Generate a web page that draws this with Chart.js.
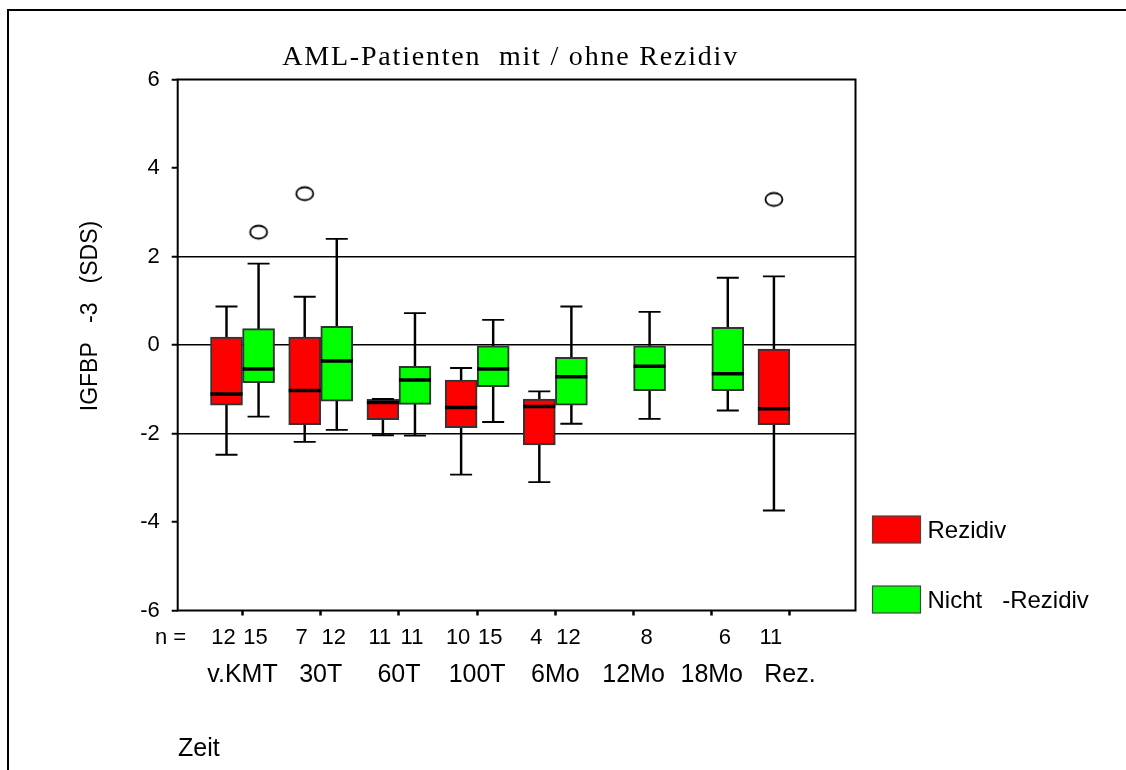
<!DOCTYPE html>
<html>
<head>
<meta charset="utf-8">
<script src="https://cdn.jsdelivr.net/npm/chart.js@4.4.0/dist/chart.umd.min.js"></script>
<style>
html, body { margin: 0; padding: 0; background: #fff; overflow: hidden; }
#wrap { position: relative; width: 1126px; height: 770px; }
#frame { position: absolute; left: 7px; top: 9px; width: 1200px; height: 800px;
         border-top: 2px solid #000; border-left: 2px solid #000; }
#c { position: absolute; left: 0; top: 0; }
</style>
</head>
<body>
<div id="wrap">
  <div id="frame"></div>
  <canvas id="c" width="1126" height="770"></canvas>
</div>
<script>
// ── Data ──
const categories = ['v.KMT', '30T', '60T', '100T', '6Mo', '12Mo', '18Mo', 'Rez.'];
const yTicks = [-6, -4, -2, 0, 2, 4, 6];
const refLines = [2, 0, -2];

// Rezidiv
const rezN   = [12, 7, 11, 10, 4, null, null, 11];
const rezMin = [-2.48, -2.19, -2.04, -2.93, -3.10, null, null, -3.74];
const rezQ1  = [-1.36, -1.80, -1.69, -1.87, -2.26, null, null, -1.80];
const rezMed = [-1.11, -1.03, -1.30, -1.41, -1.39, null, null, -1.44];
const rezQ3  = [0.18, 0.18, -1.23, -0.79, -1.22, null, null, -0.09];
const rezMax = [0.87, 1.09, -1.22, -0.52, -1.05, null, null, 1.55];
const rezOut = [null, 3.42, null, null, null, null, null, 3.29];

// Nicht-Rezidiv
const nrN   = [15, 12, 11, 15, 12, 8, 6, null];
const nrMin = [-1.62, -1.92, -2.05, -1.74, -1.78, -1.67, -1.48, null];
const nrQ1  = [-0.85, -1.27, -1.34, -0.94, -1.36, -1.03, -1.03, null];
const nrMed = [-0.54, -0.36, -0.79, -0.54, -0.72, -0.48, -0.65, null];
const nrQ3  = [0.37, 0.42, -0.48, -0.02, -0.28, -0.02, 0.40, null];
const nrMax = [1.84, 2.40, 0.72, 0.57, 0.87, 0.75, 1.52, null];
const nrOut = [2.55, null, null, null, null, null, null, null];

// ── Look ──
const SHIFT = 0.205;          // half a box, in category units
const BOX_W = 32;
const FONT = '"Liberation Sans", Arial, sans-serif';

const series = [
    { label: 'Rezidiv', color: '#ff0000', dx: -SHIFT,
      n: rezN, min: rezMin, q1: rezQ1, med: rezMed, q3: rezQ3, max: rezMax, out: rezOut },
    { label: 'Nicht   -Rezidiv', color: '#00ff00', dx: SHIFT,
      n: nrN, min: nrMin, q1: nrQ1, med: nrMed, q3: nrQ3, max: nrMax, out: nrOut }
];

const pts = (arr, dx) => arr.map((v, i) => v == null ? null : { x: i + dx, y: v }).filter(Boolean);
const spans = (lo, hi, dx) => lo.map((v, i) => v == null ? null : { x: i + dx, y: [v, hi[i]] }).filter(Boolean);

// open ellipse used for outliers
const ring = document.createElement('canvas');
ring.width = 22; ring.height = 18;
(function() {
    const r = ring.getContext('2d');
    r.fillStyle = '#fff';
    r.strokeStyle = '#000';
    r.lineWidth = 1.8;
    r.beginPath();
    r.ellipse(11, 9, 8.5, 6.5, 0, 0, Math.PI * 2);
    r.fill();
    r.stroke();
})();

const datasets = [];
series.forEach(s => {
    datasets.push({
        type: 'bar', label: s.label + ' whisker', data: spans(s.min, s.max, s.dx),
        backgroundColor: '#000', borderWidth: 0, barThickness: 1.8, grouped: false, order: 4
    });
    datasets.push({
        type: 'bar', label: s.label, data: spans(s.q1, s.q3, s.dx),
        backgroundColor: s.color, borderColor: '#333', borderWidth: 2,
        borderSkipped: false, barThickness: BOX_W, grouped: false, order: 3
    });
    datasets.push({
        type: 'line', label: s.label + ' caps', data: pts(s.min, s.dx).concat(pts(s.max, s.dx)),
        showLine: false, pointStyle: 'line', pointRadius: 11, pointHoverRadius: 11,
        pointBorderWidth: 1.8, pointBorderColor: '#000', order: 2
    });
    datasets.push({
        type: 'line', label: s.label + ' median', data: pts(s.med, s.dx),
        showLine: false, pointStyle: 'line', pointRadius: BOX_W / 2, pointHoverRadius: BOX_W / 2,
        pointBorderWidth: 3.5, pointBorderColor: '#000', order: 1
    });
    datasets.push({
        type: 'line', label: s.label + ' outlier', data: pts(s.out, s.dx),
        showLine: false, pointStyle: ring, order: 0
    });
});

// ── Extra text: title, y title, n row, legend, frame ──
const texts = {
    id: 'texts',
    afterDraw(chart) {
        const { ctx, chartArea: a, scales: { x } } = chart;
        ctx.save();
        ctx.strokeStyle = '#000';
        ctx.lineWidth = 2;
        ctx.strokeRect(a.left, a.top, a.right - a.left, a.bottom - a.top);

        ctx.fillStyle = '#000';
        ctx.textBaseline = 'middle';

        // title
        ctx.font = '28px "Liberation Serif", "Times New Roman", serif';
        ctx.textAlign = 'center';
        if ('letterSpacing' in ctx) ctx.letterSpacing = '1.8px';
        ctx.fillText('AML-Patienten  mit / ohne Rezidiv', (a.left + a.right) / 2 - 6, 58);
        if ('letterSpacing' in ctx) ctx.letterSpacing = '0px';

        // y title
        ctx.save();
        ctx.translate(91, 316);
        ctx.rotate(-Math.PI / 2);
        ctx.font = '23px ' + FONT;
        ctx.fillText('IGFBP   -3   (SDS)', 0, 0);
        ctx.restore();

        // n row
        ctx.font = '22px ' + FONT;
        ctx.textAlign = 'left';
        ctx.fillText('n =', 155, a.bottom + 27);
        ctx.textAlign = 'center';
        series.forEach(s => {
            s.n.forEach((n, i) => {
                if (n == null) return;
                ctx.fillText(String(n), x.getPixelForValue(i + s.dx) - 3, a.bottom + 27);
            });
        });

        // x title
        ctx.font = '25px ' + FONT;
        ctx.textAlign = 'left';
        ctx.fillText('Zeit', 178, 749);

        // legend
        ctx.font = '24px ' + FONT;
        series.forEach((s, k) => {
            const top = 516 + k * 70;
            ctx.fillStyle = s.color;
            ctx.fillRect(a.right + 17, top, 48, 27);
            ctx.strokeStyle = '#444';
            ctx.lineWidth = 1.2;
            ctx.strokeRect(a.right + 17, top, 48, 27);
            ctx.fillStyle = '#000';
            ctx.fillText(s.label, a.right + 72, top + 15);
        });
        ctx.restore();
    }
};

// ── Build Chart ──
const chart = new Chart(document.getElementById('c'), {
    type: 'bar',
    data: { datasets },
    options: {
        responsive: false,
        animation: false,
        events: [],
        layout: { padding: { top: 79.5, right: 270.5, bottom: 0, left: 0 } },
        plugins: {
            legend: { display: false },
            title: { display: false },
            tooltip: { enabled: false }
        },
        scales: {
            x: {
                type: 'linear',
                min: -0.829,
                max: 7.838,
                offset: false,
                afterFit: s => { s.height = 159.5; },
                afterBuildTicks: s => { s.ticks = categories.map((c, i) => ({ value: i })); },
                ticks: {
                    callback: v => categories[v] ?? '',
                    color: '#000',
                    font: { family: FONT, size: 25 },
                    padding: 45,
                    maxRotation: 0,
                    autoSkip: false
                },
                grid: {
                    offset: false,
                    drawOnChartArea: false,
                    tickLength: 5,
                    tickWidth: 2.5,
                    tickColor: '#000'
                },
                border: { display: false }
            },
            y: {
                min: -6,
                max: 6,
                stacked: false,
                afterFit: s => { s.width = 177.7; },
                afterBuildTicks: s => { s.ticks = yTicks.map(v => ({ value: v })); },
                ticks: {
                    color: '#000',
                    font: { family: FONT, size: 22 },
                    padding: 12
                },
                grid: {
                    color: c => (c.tick && refLines.includes(c.tick.value)) ? '#000' : 'rgba(0,0,0,0)',
                    lineWidth: 1.5,
                    tickLength: 6,
                    tickWidth: 2,
                    tickColor: '#000'
                },
                border: { display: false }
            }
        }
    },
    plugins: [texts]
});
</script>
</body>
</html>
